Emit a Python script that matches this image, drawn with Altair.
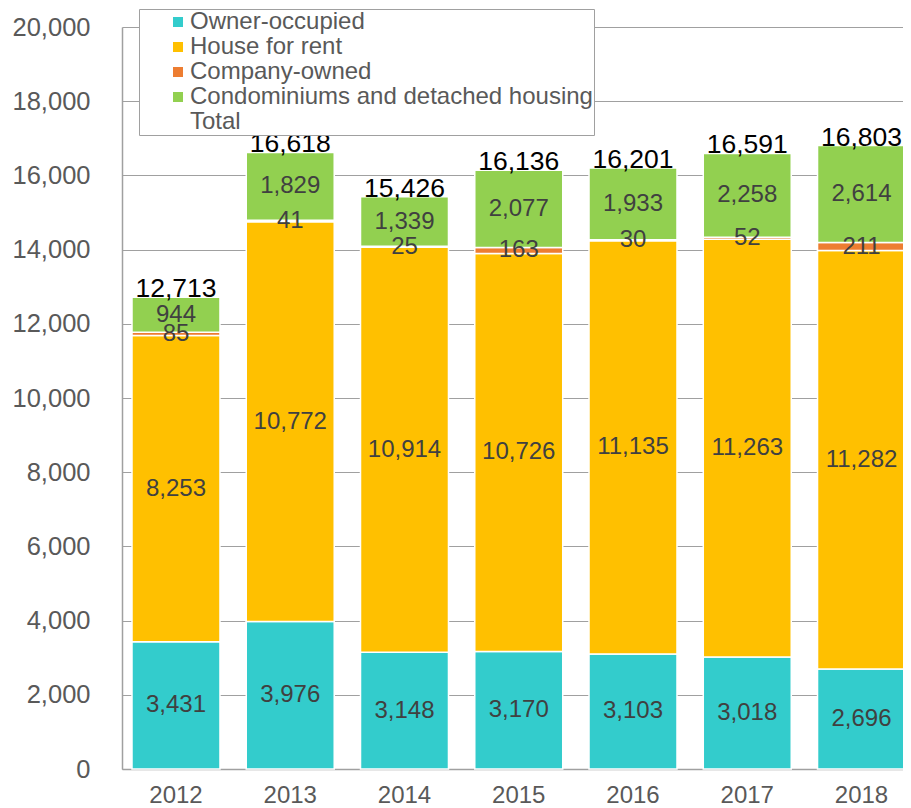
import altair as alt
import pandas as pd

years = ["2012", "2013", "2014", "2015", "2016", "2017", "2018"]
categories = ["Owner-occupied", "House for rent", "Company-owned", "Condominiums and detached housing"]
owner = [3431, 3976, 3148, 3170, 3103, 3018, 2696]
rent = [8253, 10772, 10914, 10726, 11135, 11263, 11282]
company = [85, 41, 25, 163, 30, 52, 211]
condo = [944, 1829, 1339, 2077, 1933, 2258, 2614]
totals = [12713, 16618, 15426, 16136, 16201, 16591, 16803]
colors = ["#33CCCC", "#FFC000", "#ED7D31", "#92D050"]
y_ticks = list(range(0, 20001, 2000))

series = [owner, rent, company, condo]
rows = []
for i, yr in enumerate(years):
    base_v = 0
    for k, (cat, vals) in enumerate(zip(categories, series)):
        v = vals[i]
        rows.append({"year": yr, "cat": cat, "val": v, "y0": base_v, "y1": base_v + v,
                     "mid": base_v + v / 2, "order": k})
        base_v += v
df = pd.DataFrame(rows)
tot_df = pd.DataFrame({"year": years, "total": totals})

FONT = "Liberation Sans"
GRAY = "#A0A0A0"

x_axis = alt.Axis(labelAngle=0, labelFontSize=24, labelColor="#595959", labelFont=FONT,
                  ticks=False, labelPadding=14, domainColor=GRAY, grid=False)
x_scale = alt.Scale(range=[0, 793.5], paddingInner=0.23, paddingOuter=0.0875)
y_axis = alt.Axis(values=y_ticks, format=",.0f", labelFontSize=25.5, labelColor="#595959",
                  labelFont=FONT, ticks=False, labelPadding=32, domainColor=GRAY,
                  gridColor=GRAY, gridWidth=1.2, grid=True)
y_scale = alt.Scale(domain=[0, 20000], nice=False)


def X():
    return alt.X("year:N", sort=years, title=None, scale=x_scale, axis=x_axis)


def Y(field):
    return alt.Y(field, title=None, scale=y_scale, axis=y_axis)


bars = alt.Chart(df).mark_bar(stroke="white", strokeWidth=1.5).encode(
    x=X(),
    y=Y("y0:Q"),
    y2="y1:Q",
    color=alt.Color("cat:N",
                    scale=alt.Scale(domain=categories + ["Total"], range=colors + ["transparent"]),
                    legend=alt.Legend(title=None, orient="none", legendX=17, legendY=-18,
                                      direction="vertical", symbolType="square", symbolSize=100,
                                      symbolStrokeWidth=0, labelFontSize=24, labelColor="#595959",
                                      labelFont=FONT, labelLimit=600, strokeColor=GRAY,
                                      fillColor="white", padding=1, rowPadding=1,
                                      symbolOffset=26, labelOffset=0)),
    order=alt.Order("order:Q"),
)

seg_labels = alt.Chart(df).mark_text(fontSize=24, color="#404040", font=FONT, baseline="middle").encode(
    x=X(),
    y=Y("mid:Q"),
    text=alt.Text("val:Q", format=","),
)

tot_labels = alt.Chart(tot_df).mark_text(fontSize=26.5, color="#000000", font=FONT,
                                         baseline="alphabetic", dy=0).encode(
    x=X(),
    y=Y("total:Q"),
    text=alt.Text("total:Q", format=","),
)

chart = alt.layer(bars, seg_labels, tot_labels).properties(
    width=781, height=742,
    autosize=alt.AutoSizeParams(type="none"),
    padding={"left": 114, "top": 19, "right": 0, "bottom": 39},
).configure_view(stroke=None).configure_axis(domainWidth=1.5)

chart.save("out.html", embed_options={"renderer": "svg", "actions": False})
